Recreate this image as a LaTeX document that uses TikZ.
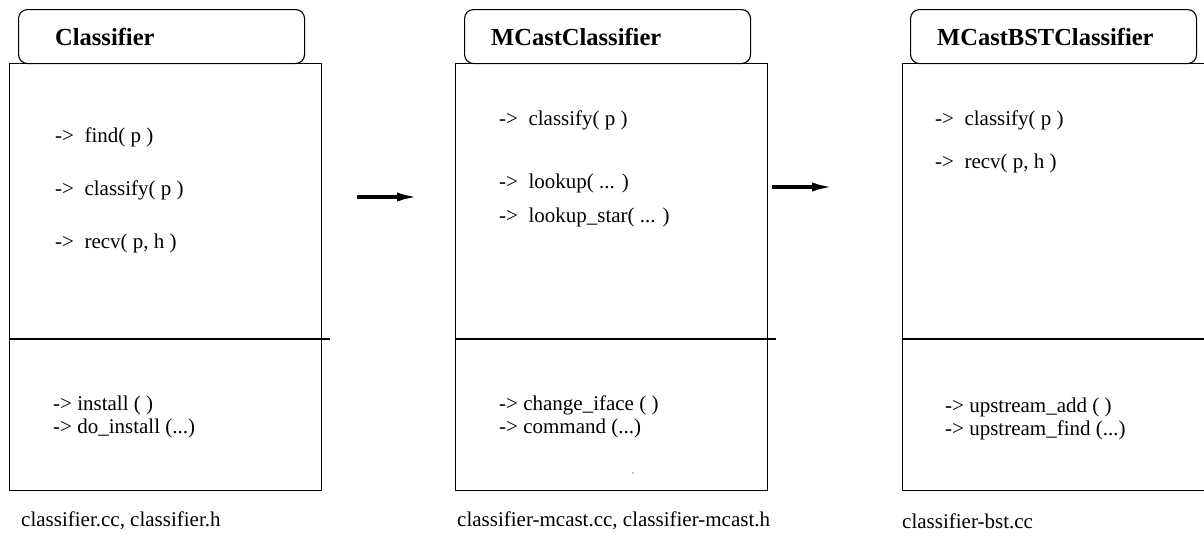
\documentclass[tikz,border=0pt]{standalone}
\usepackage{fontspec}
\setmainfont{LiberationSerif}[Extension=.ttf, UprightFont=*-Regular, BoldFont=*-Bold,
  ItalicFont=*-Italic, BoldItalicFont=*-BoldItalic]
\usetikzlibrary{arrows.meta}
\begin{document}
\begin{tikzpicture}[x=1pt,y=-1pt,
  header/.style={draw, rounded corners=9pt, line width=1.1pt, minimum width=286pt,
    minimum height=54pt, anchor=north west, inner sep=0pt},
  body/.style={draw, line width=1.1pt, minimum width=312pt, minimum height=427pt,
    anchor=north west, inner sep=0pt},
  title/.style={anchor=west, inner sep=0pt, font=\fontsize{24.5}{28}\selectfont\bfseries},
  item/.style={anchor=west, inner sep=0pt, font=\fontsize{21}{25}\selectfont},
  caption/.style={anchor=west, inner sep=0pt, font=\fontsize{21}{25}\selectfont},
  sep/.style={line width=1.1pt},
  flow/.style={line width=3.5pt, -{Latex[length=22pt,width=9pt]}}
]
\useasboundingbox (0,0) rectangle (1204,538);

% ---- Classifier ----
\node[body]   (b1) at (9,63) {};
\node[header, fill=white] (h1) at (18,9) {};
\node[title]  (t1) at (55,37) {Classifier};
\draw[sep] (9,339) -- (330,339);
\node[item] (c1a) at (55,137) {->\ \ find( p )};
\node[item] (c1b) at (55,190) {->\ \ classify( p )};
\node[item] (c1c) at (55,243) {->\ \ recv( p, h )};
\node[item] (c1d) at (53,405) {-> install ( )};
\node[item] (c1e) at (53,428) {-> do\_install (...)};
\node[caption] (f1) at (21,521) {classifier.cc, classifier.h};

% ---- MCastClassifier ----
\node[body]   (b2) at (455,63) {};
\node[header, fill=white] (h2) at (464,9) {};
\node[title]  (t2) at (491,37) {MCastClassifier};
\draw[sep] (455,339) -- (776,339);
\node[item] (c2a) at (499,120) {->\ \ classify( p )};
\node[item] (c2b) at (499,183) {->\ \ lookup( ... )};
\node[item] (c2c) at (499,217) {->\ \ lookup\_star( ... )};
\node[item] (c2d) at (499,405) {-> change\_iface ( )};
\node[item] (c2e) at (499,428) {-> command (...)};
\fill (633,473) circle (0.7pt);
\node[caption] (f2) at (457,521) {classifier-mcast.cc, classifier-mcast.h};

% ---- MCastBSTClassifier ----
\node[body]   (b3) at (902,63) {};
\node[header, fill=white] (h3) at (910,9) {};
\node[title]  (t3) at (937,37) {MCastBSTClassifier};
\draw[sep] (902,339) -- (1210,339);
\node[item] (c3a) at (935,120) {->\ \ classify( p )};
\node[item] (c3b) at (935,163) {->\ \ recv( p, h )};
\node[item] (c3c) at (945,407) {-> upstream\_add ( )};
\node[item] (c3d) at (945,430) {-> upstream\_find (...)};
\node[caption] (f3) at (902,521) {classifier-bst.cc};

% ---- derivation arrows ----
\coordinate (a1s) at (357,197);
\coordinate (a1e) at (419,197);
\coordinate (a2s) at (772,187);
\coordinate (a2e) at (834,187);
\draw[flow] (a1s) -- (a1e);
\draw[flow] (a2s) -- (a2e);
\end{tikzpicture}
\end{document}
